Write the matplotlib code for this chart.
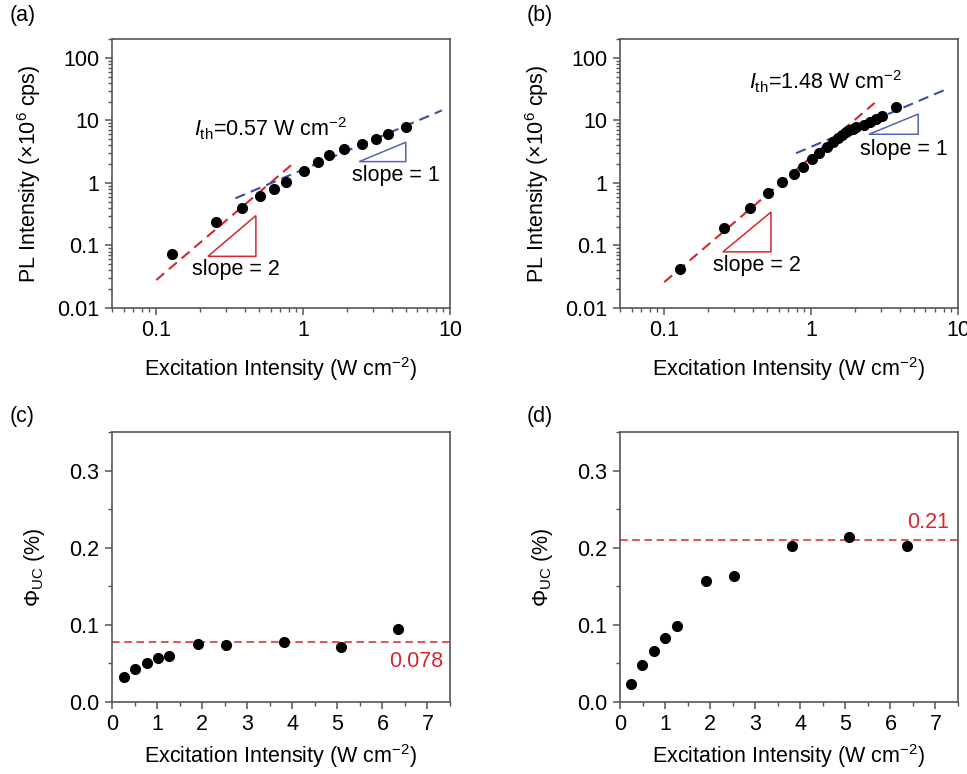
import matplotlib
matplotlib.use("Agg")
import matplotlib.pyplot as plt
import numpy as np
from matplotlib.ticker import LogLocator, NullFormatter, FixedLocator, MultipleLocator

plt.rcParams['font.family'] = ['Liberation Sans', 'DejaVu Sans']
plt.rcParams['mathtext.fontset'] = 'custom'
plt.rcParams['mathtext.rm'] = 'Liberation Sans'
plt.rcParams['mathtext.it'] = 'Liberation Sans:italic'
plt.rcParams['mathtext.bf'] = 'Liberation Sans:bold'
plt.rcParams['axes.unicode_minus'] = True

# ---------------- data ----------------
# panel (a)
a_x = [0.128, 0.256, 0.384, 0.51, 0.634, 0.764, 1.02, 1.27, 1.51, 1.89, 2.52, 3.14, 3.76, 5.02]
a_y = [0.073, 0.24, 0.39, 0.61, 0.81, 1.05, 1.54, 2.17, 2.77, 3.46, 4.21, 5.06, 6.15, 7.87]
a_fit2_x = [0.1, 0.88]
a_fit2_k = 2.8
a_fit1_x = [0.346, 8.8]
a_fit1_k = 1.64
a_tri2 = [[0.225, 0.067], [0.477, 0.067], [0.477, 0.30]]
a_tri1 = [[2.41, 2.19], [5.0, 2.19], [5.0, 4.47]]
a_ith = "0.57"

# panel (b)
b_x = [0.128, 0.256, 0.382, 0.511, 0.637, 0.768, 0.887, 1.02, 1.14, 1.28, 1.42, 1.52,
       1.62, 1.72, 1.81, 1.92, 2.03, 2.30, 2.53, 2.77, 3.04, 3.80]
b_y = [0.042, 0.188, 0.396, 0.70, 1.03, 1.41, 1.82, 2.38, 3.03, 3.73, 4.59, 5.24,
       5.85, 6.45, 7.03, 7.38, 7.74, 8.53, 9.29, 10.4, 11.9, 16.5]
b_fit2_x = [0.1, 2.71]
b_fit2_k = 2.59
b_fit1_x = [0.79, 8.17]
b_fit1_k = 3.78
b_tri2 = [[0.251, 0.079], [0.533, 0.079], [0.533, 0.342]]
b_tri1 = [[2.48, 6.0], [5.36, 6.0], [5.36, 12.6]]
b_ith = "1.48"

# panels (c), (d)
c_x = [0.258, 0.516, 0.766, 1.017, 1.275, 1.909, 2.54, 3.81, 5.08, 6.35]
c_y = [0.0319, 0.0427, 0.0509, 0.0569, 0.0590, 0.075, 0.0733, 0.0772, 0.0707, 0.0944]
c_avg = 0.078
d_x = [0.244, 0.495, 0.754, 1.005, 1.264, 1.907, 2.535, 3.81, 5.09, 6.36]
d_y = [0.0237, 0.0474, 0.0664, 0.0836, 0.0991, 0.157, 0.163, 0.2026, 0.2138, 0.2022]
d_avg = 0.21

RED = '#d7262c'
BLUE = '#3b4fa3'
TRI_BLUE = '#5264b8'
SPINE = '#555555'
FS = 15.5
MS = 7

fig = plt.figure(figsize=(9.67, 7.74), dpi=100)

W = 338 / 967
H_top = (308 - 39) / 774
H_bot = (702 - 432) / 774
axa = fig.add_axes([112 / 967, 1 - 308 / 774, W, H_top])
axb = fig.add_axes([620 / 967, 1 - 308 / 774, W, H_top])
axc = fig.add_axes([112 / 967, 1 - 702 / 774, W, H_bot])
axd = fig.add_axes([620 / 967, 1 - 702 / 774, W, H_bot])


def style(ax):
    for s in ax.spines.values():
        s.set_color(SPINE)
        s.set_linewidth(1.2)
    ax.tick_params(which='both', direction='out', color=SPINE, labelsize=FS,
                   top=False, right=False)
    ax.tick_params(which='major', length=5, width=1.1, pad=4)
    ax.tick_params(which='minor', length=3, width=1.0)


def loglog_panel(ax, x, y, f2x, f2k, f1x, f1k, tri2, tri1, ith, ith_pos, s2_pos, s1_pos):
    ax.set_xscale('log')
    ax.set_yscale('log')
    ax.set_xlim(0.05, 10)
    ax.set_ylim(0.01, 200)
    f2x = np.array(f2x)
    f1x = np.array(f1x)
    ax.plot(f2x, f2k * f2x ** 2, color=RED, lw=1.5, ls=(0, (5, 3)), zorder=2)
    ax.plot(f1x, f1k * f1x, color=BLUE, lw=1.5, ls=(0, (5, 3)), zorder=2)
    ax.plot(x, y, 'o', color='black', ms=MS, zorder=3)
    t2 = plt.Polygon(tri2, closed=True, fill=False, edgecolor=RED, lw=1.1)
    t1 = plt.Polygon(tri1, closed=True, fill=False, edgecolor=TRI_BLUE, lw=1.1)
    ax.add_patch(t2)
    ax.add_patch(t1)
    ax.text(ith_pos[0], ith_pos[1], r'$\mathit{I}_{\mathrm{th}}$=' + ith + r' W cm$^{\mathrm{-2}}$',
            fontsize=FS, ha='left', va='center')
    ax.text(s2_pos[0], s2_pos[1], 'slope = 2', fontsize=FS, ha='center', va='center')
    ax.text(s1_pos[0], s1_pos[1], 'slope = 1', fontsize=FS, ha='center', va='center')
    ax.xaxis.set_major_locator(FixedLocator([0.1, 1, 10]))
    ax.set_xticklabels(['0.1', '1', '10'])
    ax.xaxis.set_minor_locator(LogLocator(base=10, subs=np.arange(2, 10), numticks=20))
    ax.xaxis.set_minor_formatter(NullFormatter())
    ax.yaxis.set_major_locator(FixedLocator([0.01, 0.1, 1, 10, 100]))
    ax.set_yticklabels(['0.01', '0.1', '1', '10', '100'])
    ax.yaxis.set_minor_locator(LogLocator(base=10, subs=np.arange(2, 10), numticks=20))
    ax.yaxis.set_minor_formatter(NullFormatter())
    ax.set_xlabel(r'Excitation Intensity (W cm$^{\mathrm{-2}}$)', fontsize=FS, labelpad=10)
    ax.set_ylabel(r'PL Intensity ($\times$10$^{\mathrm{6}}$ cps)', fontsize=FS, labelpad=10)
    style(ax)


loglog_panel(axa, a_x, a_y, a_fit2_x, a_fit2_k, a_fit1_x, a_fit1_k, a_tri2, a_tri1, a_ith,
             (0.181, 7.3), (0.35, 0.042), (4.26, 1.31))
loglog_panel(axb, b_x, b_y, b_fit2_x, b_fit2_k, b_fit1_x, b_fit1_k, b_tri2, b_tri1, b_ith,
             (0.377, 42), (0.425, 0.047), (4.25, 3.47))


def lin_panel(ax, x, y, avg, label, lab_pos, va):
    ax.set_xlim(0, 7.5)
    ax.set_ylim(0, 0.35)
    ax.axhline(avg, color=RED, lw=1.1, ls=(0, (5, 3)), zorder=2)
    ax.plot(x, y, 'o', color='black', ms=MS, zorder=3)
    ax.text(lab_pos[0], lab_pos[1], label, color=RED, fontsize=FS, ha='right', va=va)
    ax.xaxis.set_major_locator(MultipleLocator(1))
    ax.xaxis.set_minor_locator(MultipleLocator(0.5))
    ax.yaxis.set_major_locator(MultipleLocator(0.1))
    ax.yaxis.set_minor_locator(MultipleLocator(0.05))
    ax.yaxis.set_major_formatter(matplotlib.ticker.FormatStrFormatter('%.1f'))
    ax.set_xlabel(r'Excitation Intensity (W cm$^{\mathrm{-2}}$)', fontsize=FS, labelpad=5)
    ax.set_ylabel(r'$\Phi_{\mathrm{UC}}$ (%)', fontsize=FS, labelpad=16)
    style(ax)


lin_panel(axc, c_x, c_y, c_avg, '0.078', (7.36, 0.052), 'center')
lin_panel(axd, d_x, d_y, d_avg, '0.21', (7.3, 0.233), 'center')

fig.text(10 / 967, 1 - 15 / 774, '(a)', fontsize=FS, ha='left', va='center')
fig.text(527 / 967, 1 - 15 / 774, '(b)', fontsize=FS, ha='left', va='center')
fig.text(10 / 967, 1 - 417 / 774, '(c)', fontsize=FS, ha='left', va='center')
fig.text(527 / 967, 1 - 417 / 774, '(d)', fontsize=FS, ha='left', va='center')

fig.savefig('out.png', dpi=100)
